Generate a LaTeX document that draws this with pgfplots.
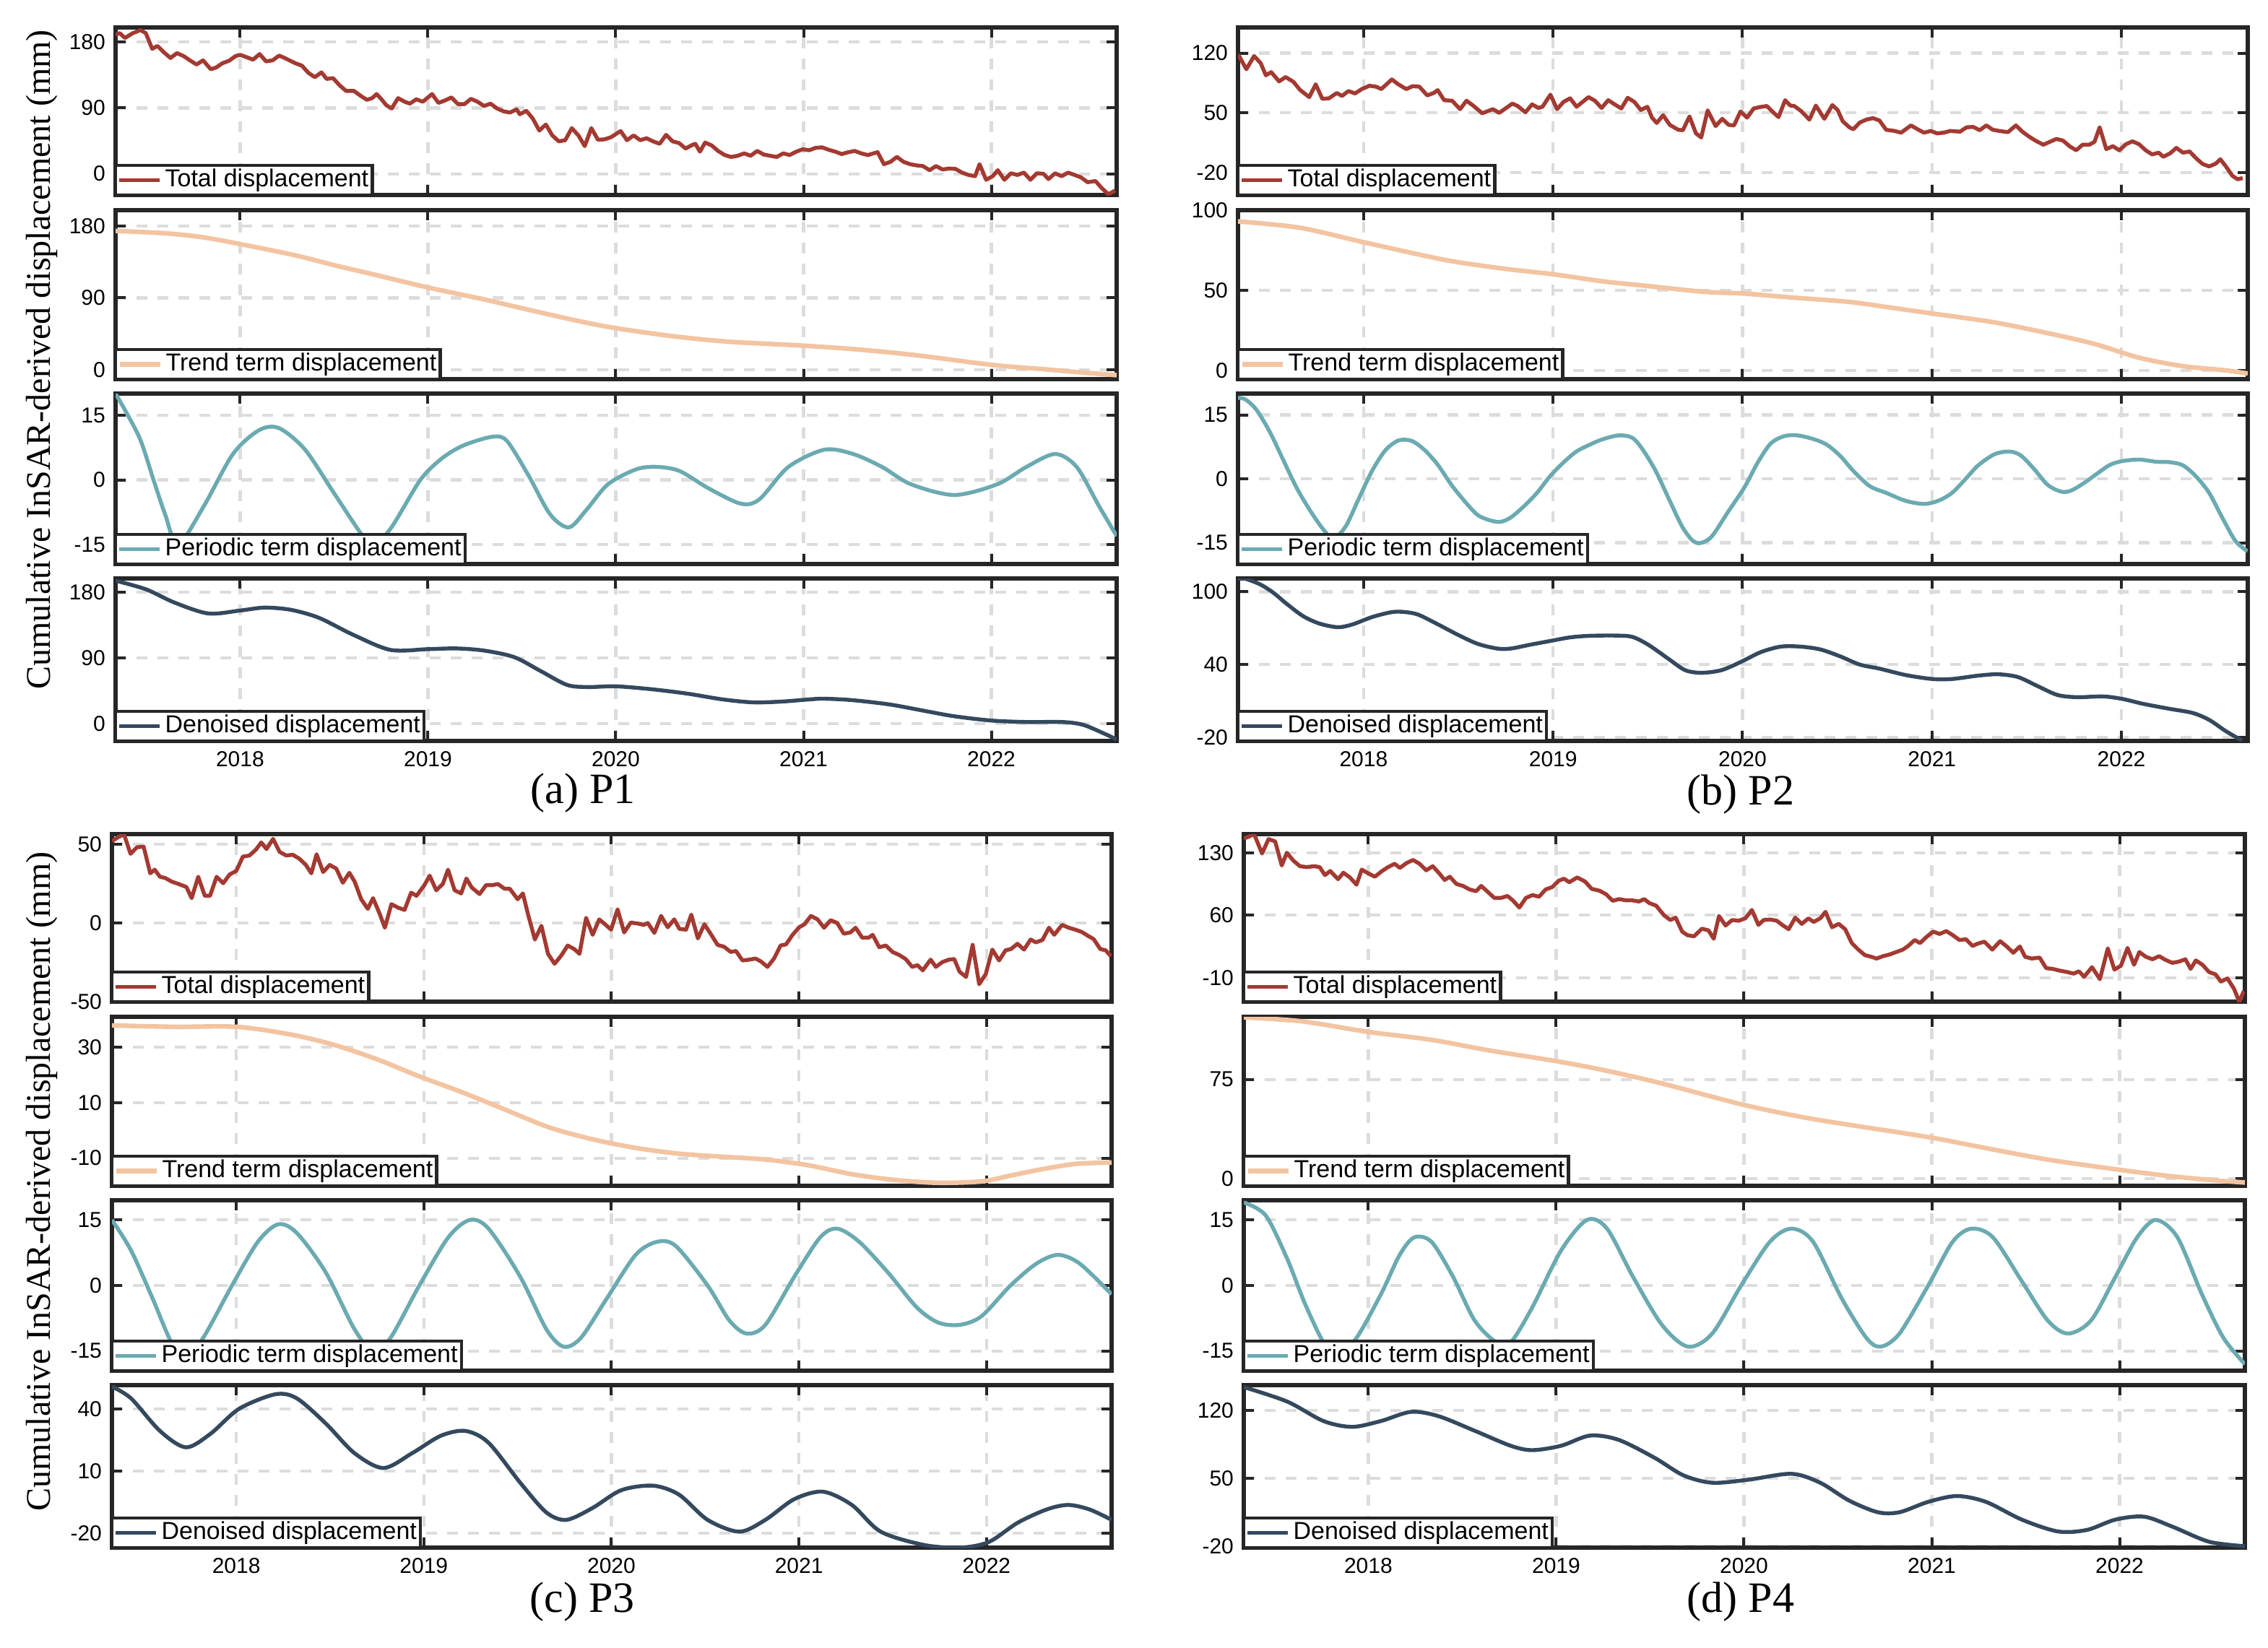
\documentclass[border=0pt]{standalone}
\usepackage{fontspec}
\setmainfont{Liberation Sans}
\newfontfamily\seriff{Liberation Serif}
\usepackage{pgfplots}
\pgfplotsset{compat=1.18}
\definecolor{totcol}{HTML}{A33A32}
\definecolor{trendcol}{HTML}{F3C4A1}
\definecolor{percol}{HTML}{6BAAB1}
\definecolor{dencol}{HTML}{34495E}
\definecolor{axcol}{HTML}{262626}
\definecolor{gridcol}{HTML}{DCDCDC}
\pgfplotsset{
 sub/.style={
  scale only axis, anchor=north west,
  xmin=2017.337, xmax=2022.667,
  xtick={2018,2019,2020,2021,2022}, xticklabels={},
  tick align=inside, xtick pos=both, ytick pos=both,
  major tick length=3.4pt,
  every tick/.append style={line width=1pt, draw=axcol},
  axis line style={line width=1.33pt, draw=axcol},
  xmajorgrids, ymajorgrids,
  major grid style={dash pattern=on 3.75pt off 3.5pt, line width=1.05pt, draw=gridcol},
  tick label style={font=\fontsize{7.5}{9}\selectfont, text=black},
  /pgf/number format/assume math mode=true,
  legend cell align=left,
  legend style={at={(0,0)}, anchor=south west, draw=axcol, line width=1.1pt, fill=white,
    inner sep=0.6pt, outer sep=0pt, font=\fontsize{8.5}{9}\selectfont,
    nodes={inner sep=0.7pt}, column sep=0.5pt},
  legend image code/.code={\draw[##1] (0pt,0pt) -- (14pt,0pt);},
 },
 yearlab/.style={xticklabels={2018,2019,2020,2021,2022}},
 tot/.style={color=totcol, line width=1.35pt, line join=round},
 tre/.style={color=trendcol, line width=1.6pt, smooth},
 per/.style={color=percol, line width=1.35pt, smooth},
 den/.style={color=dencol, line width=1.35pt, smooth},
}
\begin{document}
\begin{tikzpicture}
\useasboundingbox (0,0) rectangle (785pt,-570.5pt);
% ================= (a) P1 =================
\begin{axis}[sub, at={(40pt,-9.5pt)}, width=346.5pt, height=58pt, ymin=-29, ymax=200, ytick={0,90,180}, yticklabels={0,90,180}]
\addplot[tot] coordinates {(2017.337,190)(2017.359,192.2)(2017.387,185.6)(2017.429,192.2)(2017.470,196.4)(2017.498,192.2)(2017.532,170.8)(2017.560,174.7)(2017.595,165.9)(2017.629,158.3)(2017.664,164.9)(2017.699,160.9)(2017.733,155.0)(2017.768,149.4)(2017.803,155.0)(2017.844,142.9)(2017.872,145.2)(2017.906,151.1)(2017.941,154.4)(2017.976,160.9)(2018.000,162.6)(2018.035,159.3)(2018.069,156.0)(2018.104,163.6)(2018.138,153.7)(2018.173,155.0)(2018.208,161.6)(2018.242,157.7)(2018.294,151.1)(2018.329,147.8)(2018.364,137.9)(2018.398,132.0)(2018.433,138.6)(2018.461,129.7)(2018.495,130.7)(2018.530,120.9)(2018.564,113.3)(2018.606,113.3)(2018.641,106.7)(2018.675,101.1)(2018.703,103.4)(2018.727,109.0)(2018.755,101.1)(2018.779,93.6)(2018.807,89.3)(2018.841,103.4)(2018.876,98.5)(2018.904,95.9)(2018.938,101.8)(2018.973,98.5)(2019.022,109.0)(2019.056,96.9)(2019.091,100.2)(2019.125,104.4)(2019.160,95.2)(2019.195,95.2)(2019.229,102.4)(2019.264,98.5)(2019.299,92.6)(2019.333,95.9)(2019.368,89.3)(2019.402,85.4)(2019.437,83.7)(2019.472,88.0)(2019.489,81.4)(2019.524,86.0)(2019.558,75.6)(2019.593,59.1)(2019.628,67.3)(2019.662,52.5)(2019.697,44.3)(2019.731,45.9)(2019.766,62.4)(2019.801,52.5)(2019.835,37.8)(2019.870,62.4)(2019.905,46.6)(2019.939,47.0)(2019.974,49.9)(2020.026,58.4)(2020.060,45.9)(2020.095,52.5)(2020.130,45.9)(2020.164,48.6)(2020.199,44.3)(2020.234,41.0)(2020.268,53.2)(2020.303,44.3)(2020.337,42.0)(2020.372,34.5)(2020.407,39.4)(2020.424,41.0)(2020.448,30.2)(2020.476,42.7)(2020.511,38.7)(2020.545,31.2)(2020.580,25.6)(2020.614,23.0)(2020.649,24.6)(2020.684,27.9)(2020.718,24.6)(2020.753,31.2)(2020.788,26.3)(2020.822,24.6)(2020.857,23.0)(2020.892,27.9)(2020.926,25.6)(2020.961,30.2)(2020.995,33.5)(2021.030,32.2)(2021.065,35.5)(2021.099,36.1)(2021.134,32.8)(2021.169,30.2)(2021.203,26.9)(2021.238,29.5)(2021.272,31.2)(2021.307,27.9)(2021.342,25.6)(2021.394,29.5)(2021.428,13.1)(2021.463,16.4)(2021.497,23.0)(2021.532,16.4)(2021.567,13.1)(2021.601,11.5)(2021.636,10.5)(2021.671,4.9)(2021.705,10.5)(2021.740,5.9)(2021.775,7.2)(2021.809,6.6)(2021.844,1.6)(2021.878,-1.6)(2021.913,-3.3)(2021.937,13.1)(2021.972,-8.2)(2022.007,-3.3)(2022.034,4.9)(2022.069,-8.2)(2022.104,0.7)(2022.138,-1.6)(2022.173,1.6)(2022.208,-8.2)(2022.242,0.7)(2022.277,0.0)(2022.304,-7.2)(2022.339,0.7)(2022.374,-3.3)(2022.408,1.6)(2022.443,-1.6)(2022.477,-4.9)(2022.512,-11.5)(2022.554,-9.9)(2022.588,-19.7)(2022.623,-28.0)(2022.658,-23.0)};
\addlegendentry{Total displacement}
\end{axis}
\begin{axis}[sub, at={(40pt,-72.75pt)}, width=346.5pt, height=58.5pt, ymin=-12, ymax=200, ytick={0,90,180}, yticklabels={0,90,180}]
\addplot[tre] coordinates {(2017.337,174)(2017.6,171)(2017.8,166)(2018.0,157.5)(2018.3,143)(2018.5,131)(2018.7,120)(2019.0,103)(2019.3,88)(2019.5,77)(2019.8,61)(2020.0,52)(2020.3,42)(2020.6,35)(2021.0,30)(2021.3,25)(2021.6,18)(2022.0,6)(2022.3,0)(2022.5,-4)(2022.667,-7)};
\addlegendentry{Trend term displacement}
\end{axis}
\begin{axis}[sub, at={(40pt,-136.25pt)}, width=346.5pt, height=59pt, ymin=-19.5, ymax=20, ytick={-15,0,15}, yticklabels={-15,0,15}]
\addplot[per] coordinates {(2017.337,20)(2017.462,10)(2017.539,0)(2017.601,-8)(2017.670,-15)(2017.808,-6)(2017.962,6)(2018.100,11.5)(2018.207,12)(2018.346,7)(2018.499,-3)(2018.653,-13)(2018.714,-15)(2018.806,-11)(2018.960,0)(2019.075,5)(2019.190,8)(2019.344,10)(2019.421,9)(2019.536,1)(2019.651,-8)(2019.751,-11)(2019.843,-7)(2019.959,-1)(2020.112,2.5)(2020.227,3)(2020.343,2)(2020.496,-2)(2020.665,-5.5)(2020.765,-4.5)(2020.919,3)(2021.111,7)(2021.264,6)(2021.418,3)(2021.571,-1)(2021.802,-3.5)(2022.032,-1)(2022.186,3)(2022.339,6)(2022.454,3)(2022.572,-6)(2022.667,-13)};
\addlegendentry{Periodic term displacement}
\end{axis}
\begin{axis}[sub, yearlab, at={(40pt,-200.25pt)}, width=346.5pt, height=56.25pt, ymin=-24, ymax=199, ytick={0,90,180}, yticklabels={0,90,180}]
\addplot[den] coordinates {(2017.337,196)(2017.5,184)(2017.65,166)(2017.83,151)(2018.0,155)(2018.13,159)(2018.27,156)(2018.42,145)(2018.6,122)(2018.8,101)(2019.0,102)(2019.15,103)(2019.3,100)(2019.46,91)(2019.6,72)(2019.74,53)(2019.85,50)(2020.0,51)(2020.19,47)(2020.38,41)(2020.57,33)(2020.73,29)(2020.88,30)(2021.03,33)(2021.11,34)(2021.26,32)(2021.46,26)(2021.65,17)(2021.8,10)(2022.0,4)(2022.19,2)(2022.38,2)(2022.49,-2)(2022.61,-15)(2022.667,-22)};
\addlegendentry{Denoised displacement}
\end{axis}
% ================= (b) P2 =================
\begin{axis}[sub, at={(428.5pt,-9.5pt)}, width=349.5pt, height=58pt, ymin=-46, ymax=150, ytick={-20,50,120}, yticklabels={-20,50,120}]
\addplot[tot] coordinates {(2017.339,118.0)(2017.381,101.1)(2017.422,116.6)(2017.457,108.1)(2017.484,94.0)(2017.512,97.7)(2017.554,86.9)(2017.588,92.0)(2017.630,86.3)(2017.664,77.0)(2017.713,68.5)(2017.747,83.5)(2017.782,66.5)(2017.817,67.1)(2017.858,73.3)(2017.886,69.9)(2017.920,75.6)(2017.955,72.8)(2017.990,77.9)(2018.031,81.8)(2018.066,80.7)(2018.093,77.9)(2018.121,83.5)(2018.149,89.2)(2018.183,83.5)(2018.225,77.9)(2018.259,81.3)(2018.294,80.7)(2018.336,70.5)(2018.370,73.3)(2018.391,76.7)(2018.425,64.9)(2018.467,64.3)(2018.509,54.4)(2018.543,64.3)(2018.578,58.6)(2018.626,49.6)(2018.682,54.4)(2018.716,50.1)(2018.785,60.9)(2018.813,58.1)(2018.854,50.7)(2018.889,60.0)(2018.923,55.8)(2018.944,57.2)(2018.986,71.4)(2019.021,54.4)(2019.055,62.9)(2019.090,67.1)(2019.124,57.2)(2019.187,68.5)(2019.221,64.3)(2019.256,55.8)(2019.291,64.9)(2019.325,60.0)(2019.360,55.2)(2019.394,67.7)(2019.429,62.9)(2019.463,53.5)(2019.498,57.2)(2019.522,44.5)(2019.547,38.3)(2019.581,47.3)(2019.616,36.0)(2019.661,30.3)(2019.685,29.8)(2019.720,45.9)(2019.754,26.1)(2019.782,21.3)(2019.816,53.0)(2019.858,34.6)(2019.893,43.1)(2019.927,36.0)(2019.955,35.4)(2019.989,51.6)(2020.024,44.5)(2020.059,55.2)(2020.093,56.9)(2020.128,58.1)(2020.162,50.7)(2020.190,45.1)(2020.225,64.9)(2020.252,58.6)(2020.273,58.1)(2020.308,52.4)(2020.353,42.2)(2020.387,58.6)(2020.432,43.1)(2020.474,59.2)(2020.502,53.5)(2020.529,40.2)(2020.564,33.2)(2020.585,30.9)(2020.619,38.8)(2020.654,42.2)(2020.689,43.9)(2020.723,41.1)(2020.758,30.3)(2020.803,28.9)(2020.837,26.9)(2020.889,35.4)(2020.924,30.9)(2020.958,26.9)(2020.993,28.9)(2021.027,26.1)(2021.062,26.9)(2021.096,28.9)(2021.148,28.1)(2021.183,33.2)(2021.217,33.7)(2021.252,29.8)(2021.287,35.4)(2021.321,30.3)(2021.356,28.9)(2021.401,27.5)(2021.443,35.4)(2021.477,28.1)(2021.512,22.4)(2021.546,17.6)(2021.588,12.8)(2021.622,16.2)(2021.657,19.6)(2021.692,17.6)(2021.726,11.1)(2021.761,6.3)(2021.795,12.8)(2021.830,12.8)(2021.858,16.2)(2021.885,33.2)(2021.920,7.7)(2021.955,11.1)(2021.989,6.3)(2022.024,13.4)(2022.058,16.8)(2022.093,13.4)(2022.128,6.3)(2022.162,1.5)(2022.197,3.5)(2022.221,-1.3)(2022.256,2.6)(2022.290,9.1)(2022.325,3.5)(2022.360,4.9)(2022.394,-3.0)(2022.429,-9.8)(2022.463,-12.6)(2022.498,-9.3)(2022.522,-4.2)(2022.550,-12.1)(2022.585,-23.4)(2022.613,-27.6)(2022.640,-26.2)};
\addlegendentry{Total displacement}
\end{axis}
\begin{axis}[sub, at={(428.5pt,-72.75pt)}, width=349.5pt, height=58.5pt, ymin=-5.5, ymax=100, ytick={0,50,100}, yticklabels={0,50,100}]
\addplot[tre] coordinates {(2017.337,93)(2017.664,89)(2018.0,80)(2018.427,69)(2018.732,63.6)(2019.0,60)(2019.266,55.5)(2019.495,52.7)(2019.8,49)(2020.0,48)(2020.259,45.5)(2020.564,42.7)(2020.792,39)(2021.0,35.5)(2021.327,30)(2021.632,22.7)(2021.86,16.4)(2022.09,8)(2022.32,2.7)(2022.55,0)(2022.667,-2)};
\addlegendentry{Trend term displacement}
\end{axis}
\begin{axis}[sub, at={(428.5pt,-136.25pt)}, width=349.5pt, height=59pt, ymin=-20, ymax=20, ytick={-15,0,15}, yticklabels={-15,0,15}]
\addplot[per] coordinates {(2017.337,19)(2017.377,18.6)(2017.436,16.1)(2017.506,10.9)(2017.575,4.5)(2017.645,-2.0)(2017.714,-7.2)(2017.784,-11.7)(2017.84,-14)(2017.906,-11.1)(2017.975,-4.6)(2018.045,1.9)(2018.115,6.7)(2018.184,9.0)(2018.254,8.9)(2018.323,6.7)(2018.393,3.2)(2018.463,-1.4)(2018.532,-5.2)(2018.602,-8.5)(2018.671,-9.8)(2018.723,-10.1)(2018.776,-9.1)(2018.845,-6.5)(2018.915,-3.3)(2018.984,0.6)(2019.054,3.8)(2019.123,6.4)(2019.193,8.0)(2019.263,9.3)(2019.350,10.2)(2019.419,9.6)(2019.471,7.0)(2019.541,1.9)(2019.610,-4.6)(2019.680,-11.1)(2019.732,-14.3)(2019.774,-15.1)(2019.836,-13.6)(2019.923,-7.8)(2020.010,-2.0)(2020.080,3.8)(2020.149,8.3)(2020.219,10.0)(2020.289,10.2)(2020.376,9.3)(2020.445,8.0)(2020.515,5.4)(2020.584,1.9)(2020.671,-1.7)(2020.758,-3.3)(2020.863,-5.2)(2020.960,-5.9)(2021.036,-5.1)(2021.106,-3.3)(2021.176,-0.1)(2021.245,3.2)(2021.332,5.8)(2021.412,6.4)(2021.471,5.4)(2021.541,2.2)(2021.610,-1.4)(2021.680,-3.0)(2021.732,-2.8)(2021.802,-1.0)(2021.871,1.2)(2021.941,3.3)(2022.010,4.2)(2022.097,4.5)(2022.184,4.0)(2022.254,3.9)(2022.323,3.2)(2022.393,0.6)(2022.463,-3.3)(2022.532,-9.1)(2022.602,-14.6)(2022.665,-17.0)};
\addlegendentry{Periodic term displacement}
\end{axis}
\begin{axis}[sub, yearlab, at={(428.5pt,-200.25pt)}, width=349.5pt, height=56.25pt, ymin=-23, ymax=111, ytick={-20,40,100}, yticklabels={-20,40,100}]
\addplot[den] coordinates {(2017.337,111)(2017.377,110.7)(2017.454,106.1)(2017.523,99.3)(2017.593,90.2)(2017.680,80.0)(2017.767,73.8)(2017.864,70.8)(2017.941,73.1)(2018.045,79.2)(2018.150,83.3)(2018.219,83.3)(2018.289,81.1)(2018.393,73.1)(2018.497,64.6)(2018.602,57.1)(2018.706,53.2)(2018.776,53.2)(2018.880,56.4)(2018.984,59.4)(2019.089,62.4)(2019.193,63.7)(2019.332,63.9)(2019.419,62.8)(2019.506,56.0)(2019.610,44.6)(2019.697,35.4)(2019.784,33.2)(2019.889,35.4)(2019.993,42.3)(2020.097,50.3)(2020.202,54.8)(2020.306,54.8)(2020.410,52.5)(2020.515,46.8)(2020.619,40.0)(2020.724,36.6)(2020.863,31.3)(2021.002,28.1)(2021.106,28.1)(2021.245,30.9)(2021.350,32.0)(2021.454,29.7)(2021.558,22.2)(2021.663,14.9)(2021.767,13.1)(2021.906,13.7)(2022.010,11.5)(2022.115,7.6)(2022.254,3.5)(2022.376,0.1)(2022.463,-5.6)(2022.550,-14.8)(2022.637,-22.7)};
\addlegendentry{Denoised displacement}
\end{axis}
% ================= (c) P3 =================
\begin{axis}[sub, at={(38.75pt,-288.75pt)}, width=346pt, height=58pt, ymin=-50, ymax=56.5, ytick={-50,0,50}, yticklabels={-50,0,50}]
\addplot[tot] coordinates {(2017.337,52)(2017.365,54.2)(2017.401,56.5)(2017.436,44.0)(2017.471,48.2)(2017.506,48.5)(2017.541,31.6)(2017.565,33.9)(2017.593,29.4)(2017.621,28.6)(2017.656,26.3)(2017.692,24.8)(2017.734,22.9)(2017.762,15.8)(2017.797,29.4)(2017.832,17.3)(2017.860,17.3)(2017.895,29.4)(2017.930,25.3)(2017.965,30.9)(2018.000,33.1)(2018.035,42.2)(2018.070,42.9)(2018.105,46.7)(2018.133,51.2)(2018.161,47.0)(2018.196,53.5)(2018.231,45.2)(2018.266,42.9)(2018.301,43.4)(2018.336,40.9)(2018.371,36.9)(2018.400,31.6)(2018.428,43.7)(2018.463,32.4)(2018.498,36.9)(2018.533,34.6)(2018.568,25.6)(2018.603,31.9)(2018.631,26.3)(2018.666,15.1)(2018.701,9.0)(2018.729,15.8)(2018.764,6.0)(2018.792,-3.0)(2018.827,12.0)(2018.862,9.8)(2018.897,8.3)(2018.932,19.3)(2018.961,17.3)(2019.003,24.1)(2019.031,30.1)(2019.066,20.8)(2019.101,24.8)(2019.129,33.9)(2019.164,20.8)(2019.199,18.8)(2019.227,28.3)(2019.255,22.6)(2019.297,18.4)(2019.332,24.1)(2019.367,24.1)(2019.395,24.8)(2019.430,21.8)(2019.458,21.8)(2019.500,15.1)(2019.528,18.8)(2019.557,4.8)(2019.592,-10.5)(2019.627,-1.8)(2019.662,-19.6)(2019.697,-25.9)(2019.732,-20.8)(2019.767,-14.3)(2019.802,-16.6)(2019.830,-19.6)(2019.865,3.3)(2019.900,-7.5)(2019.935,2.3)(2019.970,-1.2)(2019.998,-4.2)(2020.033,8.7)(2020.068,-6.0)(2020.103,0.3)(2020.138,-0.3)(2020.173,-1.2)(2020.194,0.0)(2020.229,-6.3)(2020.265,4.5)(2020.300,-2.7)(2020.335,2.3)(2020.363,-3.8)(2020.398,-4.2)(2020.426,5.3)(2020.461,-9.8)(2020.496,-0.8)(2020.531,-7.2)(2020.566,-13.9)(2020.601,-15.1)(2020.636,-18.4)(2020.664,-17.8)(2020.699,-23.8)(2020.734,-23.3)(2020.769,-22.6)(2020.797,-24.4)(2020.832,-27.9)(2020.867,-22.6)(2020.902,-14.3)(2020.931,-13.6)(2020.966,-7.5)(2021.001,-2.7)(2021.029,-0.8)(2021.064,4.5)(2021.099,2.3)(2021.134,-3.0)(2021.169,1.8)(2021.204,0.0)(2021.239,-6.8)(2021.274,-6.0)(2021.302,-3.0)(2021.337,-9.3)(2021.372,-9.3)(2021.393,-7.5)(2021.428,-15.4)(2021.463,-14.3)(2021.499,-18.4)(2021.534,-20.3)(2021.569,-22.9)(2021.604,-27.9)(2021.632,-26.8)(2021.660,-30.1)(2021.702,-23.3)(2021.730,-27.9)(2021.765,-24.8)(2021.800,-23.3)(2021.828,-22.9)(2021.856,-30.9)(2021.891,-34.3)(2021.926,-13.9)(2021.961,-38.9)(2021.996,-32.4)(2022.031,-16.9)(2022.067,-23.8)(2022.102,-17.3)(2022.130,-16.6)(2022.165,-13.2)(2022.200,-16.9)(2022.235,-10.5)(2022.263,-12.3)(2022.298,-10.8)(2022.333,-3.0)(2022.361,-7.5)(2022.403,-1.2)(2022.438,-3.0)(2022.473,-4.2)(2022.508,-5.7)(2022.543,-8.3)(2022.571,-10.2)(2022.607,-16.6)(2022.635,-17.3)(2022.663,-21.1)};
\addlegendentry{Total displacement}
\end{axis}
\begin{axis}[sub, at={(38.75pt,-352pt)}, width=346pt, height=58.5pt, ymin=-20, ymax=41, ytick={-10,10,30}, yticklabels={-10,10,30}]
\addplot[tre] coordinates {(2017.337,37.9)(2017.67,37.4)(2018.0,37.4)(2018.284,34.7)(2018.515,31)(2018.746,25.8)(2018.976,19.5)(2019.207,13.7)(2019.437,7.4)(2019.668,1.1)(2019.899,-3.2)(2020.129,-6.3)(2020.36,-8.4)(2020.59,-9.5)(2020.821,-10.5)(2021.052,-12.6)(2021.282,-15.8)(2021.513,-17.9)(2021.743,-18.9)(2021.974,-18.4)(2022.128,-16.3)(2022.281,-14.2)(2022.473,-12.1)(2022.667,-11.6)};
\addlegendentry{Trend term displacement}
\end{axis}
\begin{axis}[sub, at={(38.75pt,-415.5pt)}, width=346pt, height=59pt, ymin=-19.5, ymax=19.5, ytick={-15,0,15}, yticklabels={-15,0,15}]
\addplot[per] coordinates {(2017.337,15)(2017.439,8)(2017.554,-3)(2017.654,-13)(2017.731,-16)(2017.823,-12)(2017.977,0)(2018.115,10)(2018.223,14)(2018.323,12)(2018.477,3)(2018.630,-10)(2018.730,-15)(2018.822,-12)(2018.976,0)(2019.130,11)(2019.245,15)(2019.345,13)(2019.514,2)(2019.653,-10)(2019.745,-14)(2019.837,-12)(2019.975,-3)(2020.129,7)(2020.244,10)(2020.344,9)(2020.513,0)(2020.629,-8)(2020.721,-11)(2020.821,-9)(2020.975,2)(2021.113,11)(2021.205,13)(2021.321,10)(2021.474,3)(2021.628,-5)(2021.743,-8.5)(2021.859,-9)(2021.974,-7)(2022.128,0)(2022.266,5)(2022.381,7)(2022.497,5)(2022.667,-2)};
\addlegendentry{Periodic term displacement}
\end{axis}
\begin{axis}[sub, yearlab, at={(38.75pt,-479.5pt)}, width=346pt, height=56.25pt, ymin=-27, ymax=51.4, ytick={-20,10,40}, yticklabels={-20,10,40}]
\addplot[den] coordinates {(2017.337,50.7)(2017.439,45)(2017.593,29.3)(2017.731,21.4)(2017.862,27.9)(2018.015,40)(2018.208,47)(2018.323,45)(2018.477,32.9)(2018.630,18.6)(2018.784,11.4)(2018.938,18.6)(2019.091,27)(2019.222,29.3)(2019.345,23.6)(2019.514,4.3)(2019.653,-10)(2019.760,-13.6)(2019.899,-7.9)(2020.052,0.7)(2020.221,2.9)(2020.360,-1.4)(2020.513,-13.6)(2020.682,-19.3)(2020.821,-13.6)(2020.975,-3.6)(2021.128,0)(2021.282,-6.4)(2021.436,-19.3)(2021.666,-25.7)(2021.859,-27)(2022.012,-24.3)(2022.166,-15)(2022.320,-8.6)(2022.435,-6.4)(2022.550,-8.6)(2022.667,-13.6)};
\addlegendentry{Denoised displacement}
\end{axis}
% ================= (d) P4 =================
\begin{axis}[sub, at={(430.5pt,-288.75pt)}, width=346.5pt, height=58pt, ymin=-37, ymax=151, ytick={-10,60,130}, yticklabels={-10,60,130}]
\addplot[tot] coordinates {(2017.337,146)(2017.364,148.2)(2017.392,151.0)(2017.434,129.3)(2017.469,145.5)(2017.504,142.8)(2017.539,115.8)(2017.566,130.1)(2017.601,121.2)(2017.636,115.0)(2017.671,114.0)(2017.713,115.0)(2017.741,114.0)(2017.769,105.0)(2017.797,109.6)(2017.839,100.4)(2017.867,107.7)(2017.902,102.4)(2017.937,94.3)(2017.965,111.2)(2018.000,106.9)(2018.035,103.2)(2018.070,109.1)(2018.105,114.0)(2018.140,117.7)(2018.168,113.1)(2018.203,118.5)(2018.238,122.0)(2018.273,117.7)(2018.308,110.4)(2018.343,115.0)(2018.378,106.9)(2018.406,99.6)(2018.434,103.2)(2018.469,95.1)(2018.504,92.9)(2018.539,88.9)(2018.574,87.0)(2018.601,92.9)(2018.636,86.2)(2018.671,79.4)(2018.706,79.4)(2018.741,81.6)(2018.769,76.7)(2018.804,68.6)(2018.839,79.4)(2018.874,82.6)(2018.909,80.8)(2018.944,88.9)(2018.979,91.6)(2019.014,98.8)(2019.042,101.0)(2019.070,97.0)(2019.112,102.4)(2019.154,97.8)(2019.189,89.6)(2019.231,87.5)(2019.266,83.5)(2019.301,76.2)(2019.336,78.1)(2019.371,76.7)(2019.406,76.7)(2019.441,75.4)(2019.469,78.1)(2019.497,73.5)(2019.532,70.8)(2019.574,60.0)(2019.608,54.6)(2019.636,57.3)(2019.671,41.6)(2019.699,37.6)(2019.734,36.3)(2019.776,44.9)(2019.811,43.0)(2019.839,33.6)(2019.867,59.2)(2019.902,48.4)(2019.937,54.6)(2019.972,53.8)(2020.007,56.5)(2020.042,65.9)(2020.077,49.2)(2020.105,54.6)(2020.140,55.2)(2020.175,53.8)(2020.203,49.2)(2020.238,44.3)(2020.273,57.3)(2020.308,50.3)(2020.343,56.5)(2020.371,52.5)(2020.406,56.5)(2020.434,63.8)(2020.469,46.5)(2020.504,50.3)(2020.539,44.3)(2020.574,28.7)(2020.609,21.4)(2020.644,15.2)(2020.679,13.3)(2020.706,11.4)(2020.741,14.1)(2020.776,16.0)(2020.811,18.7)(2020.846,21.4)(2020.874,25.5)(2020.909,32.2)(2020.937,28.7)(2020.972,35.7)(2021.007,41.6)(2021.042,39.0)(2021.077,42.2)(2021.112,37.6)(2021.147,32.2)(2021.182,33.0)(2021.217,25.5)(2021.245,28.2)(2021.280,30.3)(2021.322,21.4)(2021.364,30.9)(2021.399,24.9)(2021.434,17.9)(2021.469,24.9)(2021.497,13.3)(2021.532,11.4)(2021.574,12.5)(2021.609,0.6)(2021.644,-0.2)(2021.678,-2.0)(2021.720,-3.7)(2021.755,-5.5)(2021.783,-2.9)(2021.811,-9.0)(2021.853,1.7)(2021.895,-11.8)(2021.937,22.8)(2021.972,-1.0)(2022.007,3.3)(2022.042,23.3)(2022.077,4.4)(2022.105,18.7)(2022.140,13.3)(2022.175,10.6)(2022.210,14.1)(2022.245,9.8)(2022.280,6.6)(2022.315,7.9)(2022.350,10.6)(2022.378,-0.2)(2022.406,9.3)(2022.441,4.4)(2022.476,-3.7)(2022.511,-6.4)(2022.539,-14.4)(2022.574,-10.9)(2022.609,-22.5)(2022.637,-37.0)(2022.661,-25.2)};
\addlegendentry{Total displacement}
\end{axis}
\begin{axis}[sub, at={(430.5pt,-352pt)}, width=346.5pt, height=58.5pt, ymin=-5.5, ymax=122.4, ytick={0,75,150}, yticklabels={0,75,150}]
\addplot[tre] coordinates {(2017.337,122)(2017.646,119)(2018.0,111)(2018.336,105)(2018.643,97)(2018.995,89)(2019.256,82)(2019.563,72)(2019.992,56)(2020.33,46)(2020.637,39)(2020.997,31)(2021.326,22)(2021.633,14)(2022.001,6.6)(2022.246,2.2)(2022.476,-1)(2022.667,-3)};
\addlegendentry{Trend term displacement}
\end{axis}
\begin{axis}[sub, at={(430.5pt,-415.5pt)}, width=346.5pt, height=59pt, ymin=-19.5, ymax=19.5, ytick={-15,0,15}, yticklabels={-15,0,15}]
\addplot[per] coordinates {(2017.337,19)(2017.454,16)(2017.569,6)(2017.661,-4)(2017.761,-13)(2017.837,-16)(2017.937,-12)(2018.067,-2)(2018.167,7)(2018.244,11)(2018.336,10)(2018.451,2)(2018.566,-8)(2018.681,-13)(2018.758,-13)(2018.873,-5)(2019.026,8)(2019.164,15)(2019.271,13)(2019.409,2)(2019.563,-9)(2019.701,-14)(2019.831,-11)(2019.985,0)(2020.138,10)(2020.253,13)(2020.368,10)(2020.521,-3)(2020.652,-12)(2020.728,-14)(2020.828,-11)(2020.981,0)(2021.111,10)(2021.211,13)(2021.326,11)(2021.479,1)(2021.617,-8)(2021.725,-11)(2021.848,-8)(2021.978,2)(2022.093,11)(2022.193,15)(2022.308,11)(2022.438,-2)(2022.553,-12)(2022.667,-18)};
\addlegendentry{Periodic term displacement}
\end{axis}
\begin{axis}[sub, yearlab, at={(430.5pt,-479.5pt)}, width=346.5pt, height=56.25pt, ymin=-21.5, ymax=146, ytick={-20,50,120}, yticklabels={-20,50,120}]
\addplot[den] coordinates {(2017.337,144)(2017.569,129)(2017.761,109)(2017.914,103)(2018.067,109)(2018.228,118.5)(2018.374,114)(2018.566,99)(2018.758,83.5)(2018.873,79)(2019.026,83.5)(2019.180,94)(2019.333,89.6)(2019.525,71)(2019.678,53)(2019.831,45.4)(2020.023,48.5)(2020.253,54.6)(2020.406,45.4)(2020.560,27)(2020.713,15)(2020.828,15)(2020.981,25.7)(2021.134,31.7)(2021.288,25.7)(2021.479,7.4)(2021.671,-4.8)(2021.825,-3.3)(2021.978,7.4)(2022.131,10.4)(2022.285,-0.2)(2022.476,-15.4)(2022.667,-20)};
\addlegendentry{Denoised displacement}
\end{axis}
% ================= labels =================
\node[rotate=90, font=\seriff\fontsize{12}{14}\selectfont] at (14.5pt,-124.5pt) {Cumulative InSAR-derived displacement (mm)};
\node[rotate=90, font=\seriff\fontsize{12}{14}\selectfont] at (14.5pt,-409pt) {Cumulative InSAR-derived displacement (mm)};
\node[font=\seriff\fontsize{15}{17}\selectfont] at (201.75pt,-274.5pt) {(a) P1};
\node[font=\seriff\fontsize{15}{17}\selectfont] at (602.5pt,-275pt) {(b) P2};
\node[font=\seriff\fontsize{15}{17}\selectfont] at (201.5pt,-554.5pt) {(c) P3};
\node[font=\seriff\fontsize{15}{17}\selectfont] at (602.5pt,-554.5pt) {(d) P4};
\end{tikzpicture}
\end{document}
